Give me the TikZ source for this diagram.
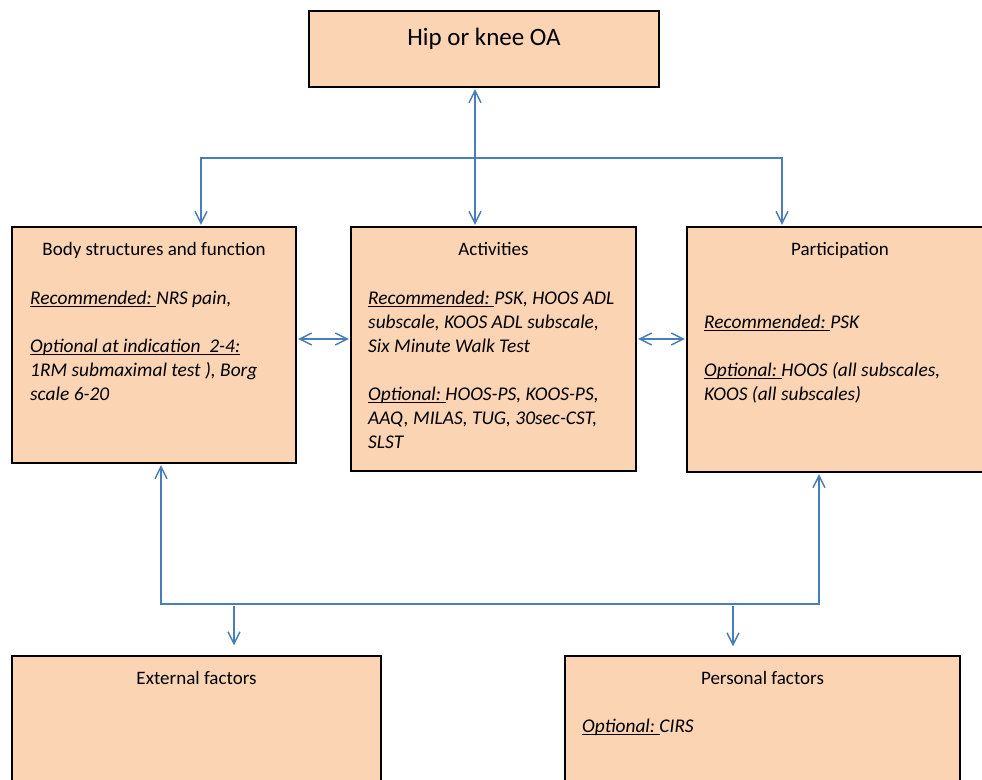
\documentclass[tikz,border=0pt]{standalone}
\usepackage{fontspec}
\setmainfont{Carlito}
\usetikzlibrary{arrows.meta,positioning}
\definecolor{icfpeach}{RGB}{251,212,180}
\definecolor{icfblue}{RGB}{74,126,187}
% underlined lead word, rule kept at one depth
\newcommand{\ulead}[1]{\setbox0=\hbox{#1}\rlap{\rule[-3.3pt]{\wd0}{1.3pt}}\box0}
% text block whose baseline is that of its first line
\newcommand{\lines}[1]{\begin{tabular}[t]{@{}l@{}}#1\end{tabular}}
\tikzset{
  icfbox/.style={draw=black, line width=1.3pt, fill=icfpeach, inner sep=0pt},
  boxhead/.style={anchor=base, inner sep=0pt, font=\fontsize{19}{24}\selectfont},
  boxtext/.style={anchor=base west, inner sep=0pt, font=\fontsize{19.4}{24}\selectfont\itshape},
  link/.style={draw=icfblue, line width=1.4pt, shorten >=1.5pt, shorten <=1.5pt},
  >={Straight Barb[length=12pt,width=12pt]}
}
\begin{document}
\begin{tikzpicture}[x=1pt,y=1pt,yscale=-1]
  \useasboundingbox (0,0) rectangle (982,779);
  \clip (0,0) rectangle (982,779);

  %Shape: Boxes
  \node[icfbox, minimum width=350pt, minimum height=76pt] (oa) at (484,49) {};
  \node[icfbox, minimum width=284pt, minimum height=236pt] (body) at (154,345) {};
  \node[icfbox, minimum width=285pt, minimum height=244pt] (act) at (493.5,349) {};
  \node[icfbox, minimum width=308pt, minimum height=245pt] (part) at (841,349.5) {};
  \node[icfbox, minimum width=369pt, minimum height=134pt] (ext) at (196.5,723) {};
  \node[icfbox, minimum width=395pt, minimum height=134pt] (pers) at (762.5,723) {};

  % Text Node
  \node[anchor=base, inner sep=0pt, font=\fontsize{25}{30}\selectfont] (oatitle) at (484,45) {Hip or knee OA};
  % Text Node
  \node[boxhead] (bodyhead) at (154,255) {Body structures and function};
  \node[boxtext] (bodytext) at (30,304) {\lines{\ulead{Recommended:\ }NRS pain,\\[24pt]\ulead{Optional at indication\ \ 2-4:}\\1RM submaximal test ), Borg\\scale 6-20}};
  % Text Node
  \node[boxhead] (acthead) at (493.5,255) {Activities};
  \node[boxtext] (acttext) at (368,304) {\lines{\ulead{Recommended:\ }PSK, HOOS ADL\\subscale, KOOS ADL subscale,\\Six Minute Walk Test\\[24pt]\ulead{Optional:\ }HOOS-PS, KOOS-PS,\\AAQ, MILAS, TUG, 30sec-CST,\\SLST}};
  % Text Node
  \node[boxhead] (parthead) at (840,255) {Participation};
  \node[boxtext] (parttext) at (704,328) {\lines{\ulead{Recommended:\ }PSK\\[24pt]\ulead{Optional:\ }HOOS (all subscales,\\KOOS (all subscales)}};
  % Text Node
  \node[boxhead] (exthead) at (196.5,684) {External factors};
  \node[boxhead] (pershead) at (762.5,684) {Personal factors};
  \node[boxtext] (perstext) at (582,732) {\ulead{Optional:\ }CIRS};

  %Straight Lines: upper links
  \coordinate (hub) at (475,158);
  \coordinate (hubL) at (201,158);
  \coordinate (hubR) at (782,158);
  \draw[link,<->] (oa.south -| hub) -- (act.north -| hub);
  \draw[link,<->] (body.north -| hubL) -- (hubL) -- (hubR) -- (part.north -| hubR);
  %Straight Lines: row links
  \coordinate (row) at (0,339);
  \draw[link,<->] (body.east |- row) -- (act.west |- row);
  \draw[link,<->] (act.east |- row) -- (part.west |- row);
  %Straight Lines: lower links
  \coordinate (lowL) at (161,604);
  \coordinate (lowR) at (819,604);
  \coordinate (extdrop) at (234,604);
  \coordinate (persdrop) at (733,604);
  \draw[link,<->] (body.south -| lowL) -- (lowL) -- (lowR) -- (part.south -| lowR);
  \draw[link,->,shorten >=10pt] (extdrop) -- (ext.north -| extdrop);
  \draw[link,->,shorten >=9pt] (persdrop) -- (pers.north -| persdrop);
\end{tikzpicture}
\end{document}
